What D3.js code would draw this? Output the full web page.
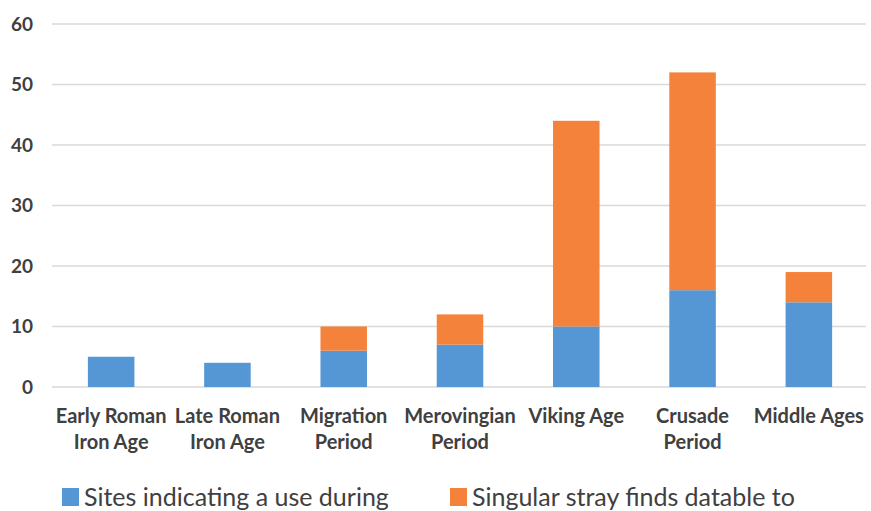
<!DOCTYPE html>
<html>
<head>
<meta charset="utf-8">
<script src="https://cdn.jsdelivr.net/npm/d3@7"></script>
<style>
  body { margin: 0; background: #fff; }
  svg { display: block; }
</style>
</head>
<body>
<svg id="chart" width="871" height="511"></svg>
<script>
const categories = [
    ["Early Roman", "Iron Age"],
    ["Late Roman", "Iron Age"],
    ["Migration", "Period"],
    ["Merovingian", "Period"],
    ["Viking Age"],
    ["Crusade", "Period"],
    ["Middle Ages"]
];
const sites = [5, 4, 6, 7, 10, 16, 14];
const strayFinds = [0, 0, 4, 5, 34, 36, 5];
const yTicks = [0, 10, 20, 30, 40, 50, 60];
const seriesNames = ["Sites indicating a use during", "Singular stray finds datable to"];

const plotLeft = 53, plotRight = 867, plotTop = 24, plotBottom = 387;
const colors = ["#5497d4", "#f4823a"];

const svg = d3.select("#chart");

const keys = categories.map(c => c.join(" "));
const x = d3.scaleBand().domain(keys).range([plotLeft, plotRight]).paddingInner(0.6).paddingOuter(0.3);
const y = d3.scaleLinear().domain([0, 60]).range([plotBottom, plotTop]);

// grid
svg.append("g").selectAll("line")
    .data(yTicks)
    .join("line")
    .attr("x1", plotLeft - 1).attr("x2", plotRight - 1)
    .attr("y1", d => y(d)).attr("y2", d => y(d))
    .attr("stroke", "#d9d9d9")
    .attr("stroke-width", 1.5);

// y labels
svg.append("g").selectAll("text")
    .data(yTicks)
    .join("text")
    .attr("x", 33)
    .attr("y", d => y(d))
    .attr("dy", "0.36em")
    .attr("text-anchor", "end")
    .style("font-family", "Lato, 'Open Sans', sans-serif")
    .style("font-weight", "bold")
    .style("font-size", "19px")
    .style("fill", "#404040")
    .text(d => d);

// stacked bars
const rows = keys.map((k, i) => ({ key: k, sites: sites[i], stray: strayFinds[i] }));
const stacked = d3.stack().keys(["sites", "stray"])(rows);

svg.append("g").selectAll("g")
    .data(stacked)
    .join("g")
    .attr("fill", (d, i) => colors[i])
    .selectAll("rect")
    .data(d => d.filter(s => s[1] > s[0]))
    .join("rect")
    .attr("x", d => x(d.data.key))
    .attr("width", x.bandwidth())
    .attr("y", d => y(d[1]))
    .attr("height", d => y(d[0]) - y(d[1]));

// category labels
const catG = svg.append("g").selectAll("text")
    .data(categories)
    .join("text")
    .attr("x", (d, i) => x(keys[i]) + x.bandwidth() / 2)
    .attr("y", 423)
    .attr("text-anchor", "middle")
    .style("font-family", "Lato, 'Open Sans', sans-serif")
    .style("font-weight", "bold")
    .style("font-size", "20px")
    .style("fill", "#404040");

catG.selectAll("tspan")
    .data(d => d)
    .join("tspan")
    .attr("x", function () { return d3.select(this.parentNode).attr("x"); })
    .attr("dy", (d, i) => i === 0 ? 0 : 26)
    .text(d => d);

// legend
const legendX = [62, 450];
const legend = svg.append("g").selectAll("g")
    .data(seriesNames)
    .join("g")
    .attr("transform", (d, i) => "translate(" + legendX[i] + ",0)");

legend.append("rect")
    .attr("x", 0).attr("y", 488)
    .attr("width", 17).attr("height", 18)
    .attr("fill", (d, i) => colors[i]);

legend.append("text")
    .attr("x", 22)
    .attr("y", 506)
    .style("font-family", "Lato, 'Open Sans', sans-serif")
    .style("font-size", "25px")
    .style("fill", "#404040")
    .text(d => d);
</script>
</body>
</html>
